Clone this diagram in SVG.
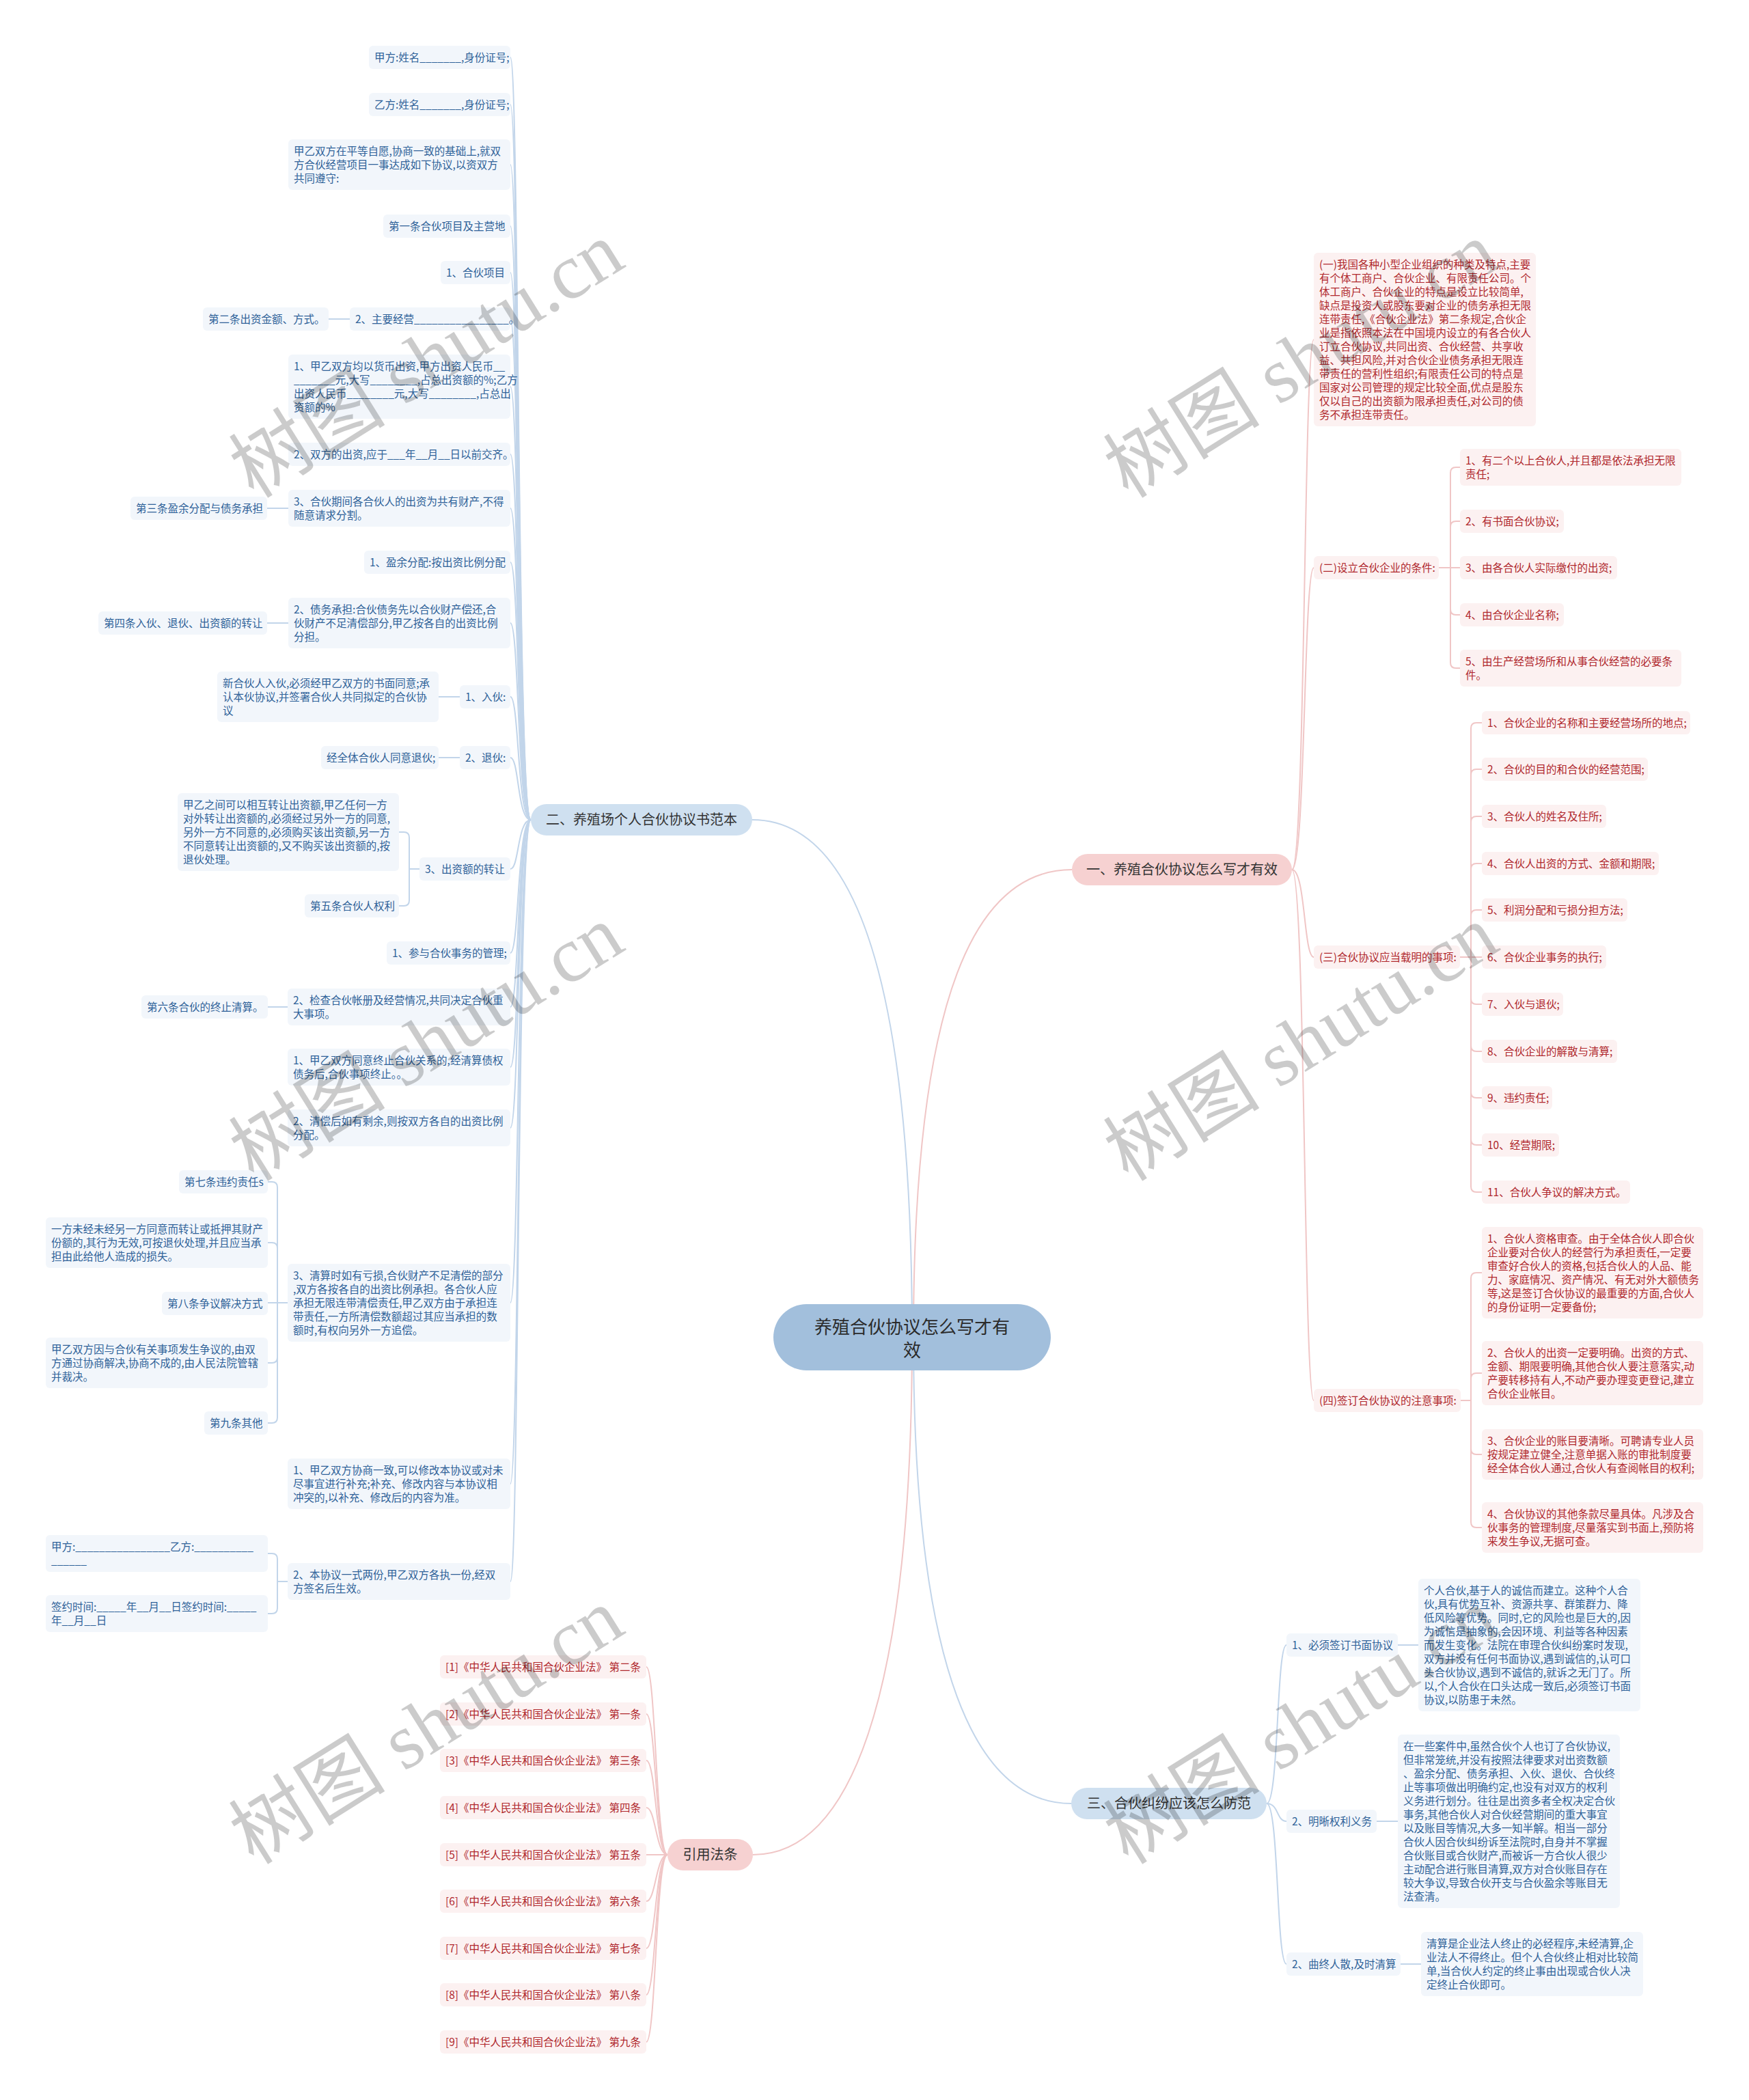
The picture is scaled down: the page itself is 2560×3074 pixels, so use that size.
<svg xmlns="http://www.w3.org/2000/svg" width="2560" height="3074" viewBox="0 0 2560 3074">
<style>
text{font-family:"Noto Sans CJK SC","Noto Sans",sans-serif}
.lb{fill:#f2f6fb}
.pb{fill:#fcf1f1}
.lt{fill:#2f6299;font-size:15.5px}
.pt{fill:#b0282d;font-size:15.5px}
.bt{fill:#333;font-size:20px;text-anchor:middle}
.cb{fill:none;stroke:#c2d5ea;stroke-width:2}
.cp{fill:none;stroke:#f0c6c6;stroke-width:2}
.wm{font-family:"Liberation Serif","Noto Sans CJK SC",serif;font-size:115px;fill:#000;opacity:.2;text-anchor:middle}
</style>
<rect width="2560" height="3074" fill="#fff"/>
<g id="connectors">
<path class="cb" d="M1101 1200 C1240 1200 1335 1400 1335 1957"/>
<path class="cp" d="M1569 1273 C1430 1273 1337 1450 1337 1957"/>
<path class="cb" d="M1568 2640 C1430 2640 1337 2450 1337 1957"/>
<path class="cp" d="M1102 2715 C1240 2715 1335 2500 1335 1957"/>
<!-- branch 二 -->
<path class="cb" d="M777 1200 C757 1200 760 84 747 84"/>
<path class="cb" d="M777 1200 C757 1200 760 153 747 153"/>
<path class="cb" d="M777 1200 C757 1200 760 241 747 241"/>
<path class="cb" d="M777 1200 C757 1200 760 331 747 331"/>
<path class="cb" d="M777 1200 C757 1200 760 399 747 399"/>
<path class="cb" d="M777 1200 C757 1200 760 467 747 467"/>
<path class="cb" d="M777 1200 C757 1200 760 566 747 566"/>
<path class="cb" d="M777 1200 C757 1200 760 665 747 665"/>
<path class="cb" d="M777 1200 C757 1200 760 744 747 744"/>
<path class="cb" d="M777 1200 C757 1200 760 823 747 823"/>
<path class="cb" d="M777 1200 C757 1200 760 912 747 912"/>
<path class="cb" d="M777 1200 C757 1200 760 1020 747 1020"/>
<path class="cb" d="M777 1200 C757 1200 760 1109 747 1109"/>
<path class="cb" d="M777 1200 C757 1200 760 1272 747 1272"/>
<path class="cb" d="M777 1200 C757 1200 760 1395 747 1395"/>
<path class="cb" d="M777 1200 C757 1200 760 1474 747 1474"/>
<path class="cb" d="M777 1200 C757 1200 760 1562 747 1562"/>
<path class="cb" d="M777 1200 C757 1200 760 1651 747 1651"/>
<path class="cb" d="M777 1200 C757 1200 760 1907 747 1907"/>
<path class="cb" d="M777 1200 C757 1200 760 2172 747 2172"/>
<path class="cb" d="M777 1200 C757 1200 760 2315 747 2315"/>
<path class="cb" d="M512 467 H481"/>
<path class="cb" d="M422 744 H391"/>
<path class="cb" d="M422 912 H391"/>
<path class="cb" d="M673 1020 H642"/>
<path class="cb" d="M673 1109 H642"/>
<path class="cb" d="M614 1272 H599 V1226 Q599 1218 591 1218 H584"/>
<path class="cb" d="M614 1272 H599 V1318 Q599 1326 591 1326 H584"/>
<path class="cb" d="M421 1474 H392"/>
<path class="cb" d="M421 1907 H406 V1738 Q406 1730 398 1730 H392"/>
<path class="cb" d="M421 1907 H406 V1827 Q406 1819 398 1819 H392"/>
<path class="cb" d="M421 1907 H392"/>
<path class="cb" d="M421 1907 H406 V1987 Q406 1995 398 1995 H392"/>
<path class="cb" d="M421 1907 H406 V2075 Q406 2083 398 2083 H392"/>
<path class="cb" d="M421 2315 H406 V2282 Q406 2274 398 2274 H392"/>
<path class="cb" d="M421 2315 H406 V2354 Q406 2362 398 2362 H392"/>
<!-- branch 一 -->
<path class="cp" d="M1891 1273 C1911 1273 1908 497 1923 497"/>
<path class="cp" d="M1891 1273 C1911 1273 1908 831 1923 831"/>
<path class="cp" d="M1891 1273 C1911 1273 1908 1401 1923 1401"/>
<path class="cp" d="M1891 1273 C1911 1273 1908 2050 1923 2050"/>
<path class="cp" d="M2106 831 H2123 V692 Q2123 684 2131 684 H2137"/>
<path class="cp" d="M2106 831 H2123 V771 Q2123 763 2131 763 H2137"/>
<path class="cp" d="M2106 831 H2137"/>
<path class="cp" d="M2106 831 H2123 V892 Q2123 900 2131 900 H2137"/>
<path class="cp" d="M2106 831 H2123 V970 Q2123 978 2131 978 H2137"/>
<path class="cp" d="M2137 1401 H2153 V1066 Q2153 1058 2161 1058 H2169"/>
<path class="cp" d="M2137 1401 H2153 V1134 Q2153 1126 2161 1126 H2169"/>
<path class="cp" d="M2137 1401 H2153 V1203 Q2153 1195 2161 1195 H2169"/>
<path class="cp" d="M2137 1401 H2153 V1272 Q2153 1264 2161 1264 H2169"/>
<path class="cp" d="M2137 1401 H2153 V1340 Q2153 1332 2161 1332 H2169"/>
<path class="cp" d="M2137 1401 H2169"/>
<path class="cp" d="M2137 1401 H2153 V1462 Q2153 1470 2161 1470 H2169"/>
<path class="cp" d="M2137 1401 H2153 V1531 Q2153 1539 2161 1539 H2169"/>
<path class="cp" d="M2137 1401 H2153 V1599 Q2153 1607 2161 1607 H2169"/>
<path class="cp" d="M2137 1401 H2153 V1668 Q2153 1676 2161 1676 H2169"/>
<path class="cp" d="M2137 1401 H2153 V1737 Q2153 1745 2161 1745 H2169"/>
<path class="cp" d="M2138 2050 H2153 V1871 Q2153 1863 2161 1863 H2169"/>
<path class="cp" d="M2138 2050 H2153 V2018 Q2153 2010 2161 2010 H2169"/>
<path class="cp" d="M2138 2050 H2153 V2121 Q2153 2129 2161 2129 H2169"/>
<path class="cp" d="M2138 2050 H2153 V2228 Q2153 2236 2161 2236 H2169"/>
<!-- branch 三 -->
<path class="cb" d="M1854 2640 C1872 2640 1868 2408 1883 2408"/>
<path class="cb" d="M1854 2640 C1872 2640 1868 2666 1883 2666"/>
<path class="cb" d="M1854 2640 C1872 2640 1868 2875 1883 2875"/>
<path class="cb" d="M2046 2408 H2076"/>
<path class="cb" d="M2015 2666 H2046"/>
<path class="cb" d="M2050 2875 H2080"/>
<!-- refs -->
<path class="cp" d="M977 2715 C960 2715 960 2440 946 2440"/>
<path class="cp" d="M977 2715 C960 2715 960 2509 946 2509"/>
<path class="cp" d="M977 2715 C960 2715 960 2577 946 2577"/>
<path class="cp" d="M977 2715 C960 2715 960 2646 946 2646"/>
<path class="cp" d="M977 2715 H946"/>
<path class="cp" d="M977 2715 C960 2715 960 2783 946 2783"/>
<path class="cp" d="M977 2715 C960 2715 960 2852 946 2852"/>
<path class="cp" d="M977 2715 C960 2715 960 2920 946 2920"/>
<path class="cp" d="M977 2715 C960 2715 960 2989 946 2989"/>
</g>

<g id="root"><rect x="1132" y="1909" width="406" height="97" rx="48.5" fill="#a2bfdc"/><text x="1335" y="1952" font-size="26" fill="#2b2b2b" text-anchor="middle">养殖合伙协议怎么写才有</text><text x="1335" y="1986" font-size="26" fill="#2b2b2b" text-anchor="middle">效</text></g>

<g id="b2"><rect x="777" y="1177" width="324" height="46" rx="23" fill="#cfe0f0"/><text class="bt" x="939" y="1207">二、养殖场个人合伙协议书范本</text></g>
<g id="b1"><rect x="1569" y="1250" width="322" height="46" rx="23" fill="#f6d1d1"/><text class="bt" x="1730" y="1280">一、养殖合伙协议怎么写才有效</text></g>
<g id="b3"><rect x="1568" y="2617" width="286" height="46" rx="23" fill="#cfe0f0"/><text class="bt" x="1711" y="2647">三、合伙纠纷应该怎么防范</text></g>
<g id="b4"><rect x="977" y="2692" width="125" height="46" rx="23" fill="#f6d1d1"/><text class="bt" x="1039.5" y="2722">引用法条</text></g>

<!-- left leaves -->
<g id="c1"><rect class="lb" x="540" y="67" width="207" height="34" rx="6"/><text class="lt" x="548" y="89.5">甲方:姓名_______,身份证号;</text></g>
<g id="c2"><rect class="lb" x="540" y="136" width="207" height="34" rx="6"/><text class="lt" x="548" y="158.5">乙方:姓名_______,身份证号;</text></g>
<g id="c3"><rect class="lb" x="422" y="204" width="325" height="74" rx="6"/><text class="lt"><tspan x="430" y="226.5">甲乙双方在平等自愿,协商一致的基础上,就双</tspan><tspan x="430" y="246.5">方合伙经营项目一事达成如下协议,以资双方</tspan><tspan x="430" y="266.5">共同遵守:</tspan></text></g>
<g id="c4"><rect class="lb" x="561" y="314" width="186" height="34" rx="6"/><text class="lt" x="569" y="336.5">第一条合伙项目及主营地</text></g>
<g id="c5"><rect class="lb" x="645" y="382" width="102" height="34" rx="6"/><text class="lt" x="653" y="404.5">1、合伙项目</text></g>
<g id="c6"><rect class="lb" x="512" y="450" width="235" height="34" rx="6"/><text class="lt" x="520" y="472.5">2、主要经营________________。</text></g>
<g id="g6"><rect class="lb" x="297" y="450" width="184" height="34" rx="6"/><text class="lt" x="305" y="472.5">第二条出资金额、方式。</text></g>
<g id="c7"><rect class="lb" x="422" y="519" width="325" height="94" rx="6"/><text class="lt"><tspan x="430" y="541.5">1、甲乙双方均以货币出资,甲方出资人民币__</tspan><tspan x="430" y="561.5">_______元,大写________,占总出资额的%;乙方</tspan><tspan x="430" y="581.5">出资人民币________元,大写________,占总出</tspan><tspan x="430" y="601.5">资额的%</tspan></text></g>
<g id="c8"><rect class="lb" x="422" y="648" width="325" height="34" rx="6"/><text class="lt" x="430" y="670.5">2、双方的出资,应于___年__月__日以前交齐。</text></g>
<g id="c9"><rect class="lb" x="422" y="717" width="325" height="54" rx="6"/><text class="lt"><tspan x="430" y="739.5">3、合伙期间各合伙人的出资为共有财产,不得</tspan><tspan x="430" y="759.5">随意请求分割。</tspan></text></g>
<g id="g9"><rect class="lb" x="191" y="727" width="200" height="34" rx="6"/><text class="lt" x="199" y="749.5">第三条盈余分配与债务承担</text></g>
<g id="c10"><rect class="lb" x="533" y="806" width="214" height="34" rx="6"/><text class="lt" x="541" y="828.5">1、盈余分配:按出资比例分配</text></g>
<g id="c11"><rect class="lb" x="422" y="875" width="325" height="74" rx="6"/><text class="lt"><tspan x="430" y="897.5">2、债务承担:合伙债务先以合伙财产偿还,合</tspan><tspan x="430" y="917.5">伙财产不足清偿部分,甲乙按各自的出资比例</tspan><tspan x="430" y="937.5">分担。</tspan></text></g>
<g id="g11"><rect class="lb" x="144" y="895" width="247" height="34" rx="6"/><text class="lt" x="152" y="917.5">第四条入伙、退伙、出资额的转让</text></g>
<g id="c12"><rect class="lb" x="673" y="1003" width="74" height="34" rx="6"/><text class="lt" x="681" y="1025.5">1、入伙:</text></g>
<g id="g12"><rect class="lb" x="318" y="983" width="324" height="74" rx="6"/><text class="lt"><tspan x="326" y="1005.5">新合伙人入伙,必须经甲乙双方的书面同意;承</tspan><tspan x="326" y="1025.5">认本伙协议,并签署合伙人共同拟定的合伙协</tspan><tspan x="326" y="1045.5">议</tspan></text></g>
<g id="c13"><rect class="lb" x="673" y="1092" width="74" height="34" rx="6"/><text class="lt" x="681" y="1114.5">2、退伙:</text></g>
<g id="g13"><rect class="lb" x="470" y="1092" width="172" height="34" rx="6"/><text class="lt" x="478" y="1114.5">经全体合伙人同意退伙;</text></g>
<g id="c14"><rect class="lb" x="614" y="1255" width="133" height="34" rx="6"/><text class="lt" x="622" y="1277.5">3、出资额的转让</text></g>
<g id="g14a"><rect class="lb" x="260" y="1161" width="324" height="114" rx="6"/><text class="lt"><tspan x="268" y="1183.5">甲乙之间可以相互转让出资额,甲乙任何一方</tspan><tspan x="268" y="1203.5">对外转让出资额的,必须经过另外一方的同意,</tspan><tspan x="268" y="1223.5">另外一方不同意的,必须购买该出资额,另一方</tspan><tspan x="268" y="1243.5">不同意转让出资额的,又不购买该出资额的,按</tspan><tspan x="268" y="1263.5">退伙处理。</tspan></text></g>
<g id="g14b"><rect class="lb" x="446" y="1309" width="138" height="34" rx="6"/><text class="lt" x="454" y="1331.5">第五条合伙人权利</text></g>
<g id="c15"><rect class="lb" x="566" y="1378" width="181" height="34" rx="6"/><text class="lt" x="574" y="1400.5">1、参与合伙事务的管理;</text></g>
<g id="c16"><rect class="lb" x="421" y="1447" width="326" height="54" rx="6"/><text class="lt"><tspan x="429" y="1469.5">2、检查合伙帐册及经营情况,共同决定合伙重</tspan><tspan x="429" y="1489.5">大事项。</tspan></text></g>
<g id="g16"><rect class="lb" x="207" y="1457" width="185" height="34" rx="6"/><text class="lt" x="215" y="1479.5">第六条合伙的终止清算。</text></g>
<g id="c17"><rect class="lb" x="421" y="1535" width="326" height="54" rx="6"/><text class="lt"><tspan x="429" y="1557.5">1、甲乙双方同意终止合伙关系的,经清算债权</tspan><tspan x="429" y="1577.5">债务后,合伙事项终止。。</tspan></text></g>
<g id="c18"><rect class="lb" x="421" y="1624" width="326" height="54" rx="6"/><text class="lt"><tspan x="429" y="1646.5">2、清偿后如有剩余,则按双方各自的出资比例</tspan><tspan x="429" y="1666.5">分配。</tspan></text></g>
<g id="c19"><rect class="lb" x="421" y="1850" width="326" height="114" rx="6"/><text class="lt"><tspan x="429" y="1872.5">3、清算时如有亏损,合伙财产不足清偿的部分</tspan><tspan x="429" y="1892.5">,双方各按各自的出资比例承担。各合伙人应</tspan><tspan x="429" y="1912.5">承担无限连带清偿责任,甲乙双方由于承担连</tspan><tspan x="429" y="1932.5">带责任,一方所清偿数额超过其应当承担的数</tspan><tspan x="429" y="1952.5">额时,有权向另外一方追偿。</tspan></text></g>
<g id="g19a"><rect class="lb" x="262" y="1713" width="130" height="34" rx="6"/><text class="lt" x="270" y="1735.5">第七条违约责任s</text></g>
<g id="g19b"><rect class="lb" x="67" y="1782" width="325" height="74" rx="6"/><text class="lt"><tspan x="75" y="1804.5">一方未经未经另一方同意而转让或抵押其财产</tspan><tspan x="75" y="1824.5">份额的,其行为无效,可按退伙处理,并且应当承</tspan><tspan x="75" y="1844.5">担由此给他人造成的损失。</tspan></text></g>
<g id="g19c"><rect class="lb" x="237" y="1891" width="155" height="34" rx="6"/><text class="lt" x="245" y="1913.5">第八条争议解决方式</text></g>
<g id="g19d"><rect class="lb" x="67" y="1958" width="325" height="74" rx="6"/><text class="lt"><tspan x="75" y="1980.5">甲乙双方因与合伙有关事项发生争议的,由双</tspan><tspan x="75" y="2000.5">方通过协商解决,协商不成的,由人民法院管辖</tspan><tspan x="75" y="2020.5">并裁决。</tspan></text></g>
<g id="g19e"><rect class="lb" x="299" y="2066" width="93" height="34" rx="6"/><text class="lt" x="307" y="2088.5">第九条其他</text></g>
<g id="c20"><rect class="lb" x="421" y="2135" width="326" height="74" rx="6"/><text class="lt"><tspan x="429" y="2157.5">1、甲乙双方协商一致,可以修改本协议或对未</tspan><tspan x="429" y="2177.5">尽事宜进行补充;补充、修改内容与本协议相</tspan><tspan x="429" y="2197.5">冲突的,以补充、修改后的内容为准。</tspan></text></g>
<g id="c21"><rect class="lb" x="421" y="2288" width="326" height="54" rx="6"/><text class="lt"><tspan x="429" y="2310.5">2、本协议一式两份,甲乙双方各执一份,经双</tspan><tspan x="429" y="2330.5">方签名后生效。</tspan></text></g>
<g id="g21a"><rect class="lb" x="67" y="2247" width="325" height="54" rx="6"/><text class="lt"><tspan x="75" y="2269.5">甲方:________________乙方:__________</tspan><tspan x="75" y="2289.5">______</tspan></text></g>
<g id="g21b"><rect class="lb" x="67" y="2335" width="325" height="54" rx="6"/><text class="lt"><tspan x="75" y="2357.5">签约时间:_____年__月__日签约时间:_____</tspan><tspan x="75" y="2377.5">年__月__日</tspan></text></g>

<!-- right pink -->
<g id="p1"><rect class="pb" x="1923" y="370" width="325" height="254" rx="6"/><text class="pt"><tspan x="1931" y="392.5">(一)我国各种小型企业组织的种类及特点,主要</tspan><tspan x="1931" y="412.5">有个体工商户、合伙企业、有限责任公司。个</tspan><tspan x="1931" y="432.5">体工商户、合伙企业的特点是设立比较简单,</tspan><tspan x="1931" y="452.5">缺点是投资人或股东要对企业的债务承担无限</tspan><tspan x="1931" y="472.5">连带责任,《合伙企业法》第二条规定,合伙企</tspan><tspan x="1931" y="492.5">业是指依照本法在中国境内设立的有各合伙人</tspan><tspan x="1931" y="512.5">订立合伙协议,共同出资、合伙经营、共享收</tspan><tspan x="1931" y="532.5">益、共担风险,并对合伙企业债务承担无限连</tspan><tspan x="1931" y="552.5">带责任的营利性组织;有限责任公司的特点是</tspan><tspan x="1931" y="572.5">国家对公司管理的规定比较全面,优点是股东</tspan><tspan x="1931" y="592.5">仅以自己的出资额为限承担责任,对公司的债</tspan><tspan x="1931" y="612.5">务不承担连带责任。</tspan></text></g>
<g id="p2"><rect class="pb" x="1923" y="814" width="183" height="34" rx="6"/><text class="pt" x="1931" y="836.5">(二)设立合伙企业的条件:</text></g>
<g id="p2a"><rect class="pb" x="2137" y="657" width="324" height="54" rx="6"/><text class="pt"><tspan x="2145" y="679.5">1、有二个以上合伙人,并且都是依法承担无限</tspan><tspan x="2145" y="699.5">责任;</tspan></text></g>
<g id="p2b"><rect class="pb" x="2137" y="746" width="152" height="34" rx="6"/><text class="pt" x="2145" y="768.5">2、有书面合伙协议;</text></g>
<g id="p2c"><rect class="pb" x="2137" y="814" width="230" height="34" rx="6"/><text class="pt" x="2145" y="836.5">3、由各合伙人实际缴付的出资;</text></g>
<g id="p2d"><rect class="pb" x="2137" y="883" width="152" height="34" rx="6"/><text class="pt" x="2145" y="905.5">4、由合伙企业名称;</text></g>
<g id="p2e"><rect class="pb" x="2137" y="951" width="324" height="54" rx="6"/><text class="pt"><tspan x="2145" y="973.5">5、由生产经营场所和从事合伙经营的必要条</tspan><tspan x="2145" y="993.5">件。</tspan></text></g>
<g id="p3"><rect class="pb" x="1923" y="1384" width="214" height="34" rx="6"/><text class="pt" x="1931" y="1406.5">(三)合伙协议应当载明的事项:</text></g>
<g id="p3a"><rect class="pb" x="2169" y="1041" width="305" height="34" rx="6"/><text class="pt" x="2177" y="1063.5">1、合伙企业的名称和主要经营场所的地点;</text></g>
<g id="p3b"><rect class="pb" x="2169" y="1109" width="243" height="34" rx="6"/><text class="pt" x="2177" y="1131.5">2、合伙的目的和合伙的经营范围;</text></g>
<g id="p3c"><rect class="pb" x="2169" y="1178" width="182" height="34" rx="6"/><text class="pt" x="2177" y="1200.5">3、合伙人的姓名及住所;</text></g>
<g id="p3d"><rect class="pb" x="2169" y="1247" width="259" height="34" rx="6"/><text class="pt" x="2177" y="1269.5">4、合伙人出资的方式、金额和期限;</text></g>
<g id="p3e"><rect class="pb" x="2169" y="1315" width="213" height="34" rx="6"/><text class="pt" x="2177" y="1337.5">5、利润分配和亏损分担方法;</text></g>
<g id="p3f"><rect class="pb" x="2169" y="1384" width="182" height="34" rx="6"/><text class="pt" x="2177" y="1406.5">6、合伙企业事务的执行;</text></g>
<g id="p3g"><rect class="pb" x="2169" y="1453" width="119" height="34" rx="6"/><text class="pt" x="2177" y="1475.5">7、入伙与退伙;</text></g>
<g id="p3h"><rect class="pb" x="2169" y="1522" width="198" height="34" rx="6"/><text class="pt" x="2177" y="1544.5">8、合伙企业的解散与清算;</text></g>
<g id="p3i"><rect class="pb" x="2169" y="1590" width="103" height="34" rx="6"/><text class="pt" x="2177" y="1612.5">9、违约责任;</text></g>
<g id="p3j"><rect class="pb" x="2169" y="1659" width="113" height="34" rx="6"/><text class="pt" x="2177" y="1681.5">10、经营期限;</text></g>
<g id="p3k"><rect class="pb" x="2169" y="1728" width="217" height="34" rx="6"/><text class="pt" x="2177" y="1750.5">11、合伙人争议的解决方式。</text></g>
<g id="p4"><rect class="pb" x="1923" y="2033" width="215" height="34" rx="6"/><text class="pt" x="1931" y="2055.5">(四)签订合伙协议的注意事项:</text></g>
<g id="p4a"><rect class="pb" x="2169" y="1796" width="324" height="134" rx="6"/><text class="pt"><tspan x="2177" y="1818.5">1、合伙人资格审查。由于全体合伙人即合伙</tspan><tspan x="2177" y="1838.5">企业要对合伙人的经营行为承担责任,一定要</tspan><tspan x="2177" y="1858.5">审查好合伙人的资格,包括合伙人的人品、能</tspan><tspan x="2177" y="1878.5">力、家庭情况、资产情况、有无对外大额债务</tspan><tspan x="2177" y="1898.5">等,这是签订合伙协议的最重要的方面,合伙人</tspan><tspan x="2177" y="1918.5">的身份证明一定要备份;</tspan></text></g>
<g id="p4b"><rect class="pb" x="2169" y="1963" width="324" height="94" rx="6"/><text class="pt"><tspan x="2177" y="1985.5">2、合伙人的出资一定要明确。出资的方式、</tspan><tspan x="2177" y="2005.5">金额、期限要明确,其他合伙人要注意落实,动</tspan><tspan x="2177" y="2025.5">产要转移持有人,不动产要办理变更登记,建立</tspan><tspan x="2177" y="2045.5">合伙企业帐目。</tspan></text></g>
<g id="p4c"><rect class="pb" x="2169" y="2092" width="324" height="74" rx="6"/><text class="pt"><tspan x="2177" y="2114.5">3、合伙企业的账目要清晰。可聘请专业人员</tspan><tspan x="2177" y="2134.5">按规定建立健全,注意单据入账的审批制度要</tspan><tspan x="2177" y="2154.5">经全体合伙人通过,合伙人有查阅帐目的权利;</tspan></text></g>
<g id="p4d"><rect class="pb" x="2169" y="2199" width="324" height="74" rx="6"/><text class="pt"><tspan x="2177" y="2221.5">4、合伙协议的其他条款尽量具体。凡涉及合</tspan><tspan x="2177" y="2241.5">伙事务的管理制度,尽量落实到书面上,预防将</tspan><tspan x="2177" y="2261.5">来发生争议,无据可查。</tspan></text></g>

<!-- branch 三 leaves -->
<g id="s1"><rect class="lb" x="1883" y="2391" width="163" height="34" rx="6"/><text class="lt" x="1891" y="2413.5">1、必须签订书面协议</text></g>
<g id="s1p"><rect class="lb" x="2076" y="2311" width="325" height="194" rx="6"/><text class="lt"><tspan x="2084" y="2333.5">个人合伙,基于人的诚信而建立。这种个人合</tspan><tspan x="2084" y="2353.5">伙,具有优势互补、资源共享、群策群力、降</tspan><tspan x="2084" y="2373.5">低风险等优势。同时,它的风险也是巨大的,因</tspan><tspan x="2084" y="2393.5">为诚信是抽象的,会因环境、利益等各种因素</tspan><tspan x="2084" y="2413.5">而发生变化。法院在审理合伙纠纷案时发现,</tspan><tspan x="2084" y="2433.5">双方并没有任何书面协议,遇到诚信的,认可口</tspan><tspan x="2084" y="2453.5">头合伙协议,遇到不诚信的,就诉之无门了。所</tspan><tspan x="2084" y="2473.5">以,个人合伙在口头达成一致后,必须签订书面</tspan><tspan x="2084" y="2493.5">协议,以防患于未然。</tspan></text></g>
<g id="s2"><rect class="lb" x="1883" y="2649" width="132" height="34" rx="6"/><text class="lt" x="1891" y="2671.5">2、明晰权利义务</text></g>
<g id="s2p"><rect class="lb" x="2046" y="2539" width="325" height="254" rx="6"/><text class="lt"><tspan x="2054" y="2561.5">在一些案件中,虽然合伙个人也订了合伙协议,</tspan><tspan x="2054" y="2581.5">但非常笼统,并没有按照法律要求对出资数额</tspan><tspan x="2054" y="2601.5">、盈余分配、债务承担、入伙、退伙、合伙终</tspan><tspan x="2054" y="2621.5">止等事项做出明确约定,也没有对双方的权利</tspan><tspan x="2054" y="2641.5">义务进行划分。往往是出资多者全权决定合伙</tspan><tspan x="2054" y="2661.5">事务,其他合伙人对合伙经营期间的重大事宜</tspan><tspan x="2054" y="2681.5">以及账目等情况,大多一知半解。相当一部分</tspan><tspan x="2054" y="2701.5">合伙人因合伙纠纷诉至法院时,自身并不掌握</tspan><tspan x="2054" y="2721.5">合伙账目或合伙财产,而被诉一方合伙人很少</tspan><tspan x="2054" y="2741.5">主动配合进行账目清算,双方对合伙账目存在</tspan><tspan x="2054" y="2761.5">较大争议,导致合伙开支与合伙盈余等账目无</tspan><tspan x="2054" y="2781.5">法查清。</tspan></text></g>
<g id="s3"><rect class="lb" x="1883" y="2858" width="167" height="34" rx="6"/><text class="lt" x="1891" y="2880.5">2、曲终人散,及时清算</text></g>
<g id="s3p"><rect class="lb" x="2080" y="2828" width="325" height="94" rx="6"/><text class="lt"><tspan x="2088" y="2850.5">清算是企业法人终止的必经程序,未经清算,企</tspan><tspan x="2088" y="2870.5">业法人不得终止。但个人合伙终止相对比较简</tspan><tspan x="2088" y="2890.5">单,当合伙人约定的终止事由出现或合伙人决</tspan><tspan x="2088" y="2910.5">定终止合伙即可。</tspan></text></g>

<!-- refs -->
<g id="r1"><rect class="pb" x="644" y="2423" width="302" height="34" rx="6"/><text class="pt" x="652" y="2445.5">[1]《中华人民共和国合伙企业法》 第二条</text></g>
<g id="r2"><rect class="pb" x="644" y="2492" width="302" height="34" rx="6"/><text class="pt" x="652" y="2514.5">[2]《中华人民共和国合伙企业法》 第一条</text></g>
<g id="r3"><rect class="pb" x="644" y="2560" width="302" height="34" rx="6"/><text class="pt" x="652" y="2582.5">[3]《中华人民共和国合伙企业法》 第三条</text></g>
<g id="r4"><rect class="pb" x="644" y="2629" width="302" height="34" rx="6"/><text class="pt" x="652" y="2651.5">[4]《中华人民共和国合伙企业法》 第四条</text></g>
<g id="r5"><rect class="pb" x="644" y="2698" width="302" height="34" rx="6"/><text class="pt" x="652" y="2720.5">[5]《中华人民共和国合伙企业法》 第五条</text></g>
<g id="r6"><rect class="pb" x="644" y="2766" width="302" height="34" rx="6"/><text class="pt" x="652" y="2788.5">[6]《中华人民共和国合伙企业法》 第六条</text></g>
<g id="r7"><rect class="pb" x="644" y="2835" width="302" height="34" rx="6"/><text class="pt" x="652" y="2857.5">[7]《中华人民共和国合伙企业法》 第七条</text></g>
<g id="r8"><rect class="pb" x="644" y="2903" width="302" height="34" rx="6"/><text class="pt" x="652" y="2925.5">[8]《中华人民共和国合伙企业法》 第八条</text></g>
<g id="r9"><rect class="pb" x="644" y="2972" width="302" height="34" rx="6"/><text class="pt" x="652" y="2994.5">[9]《中华人民共和国合伙企业法》 第九条</text></g>

<g id="watermarks">
<text class="wm" transform="translate(645 560) rotate(-32)">树图 shutu.cn</text>
<text class="wm" transform="translate(645 1560) rotate(-32)">树图 shutu.cn</text>
<text class="wm" transform="translate(645 2560) rotate(-32)">树图 shutu.cn</text>
<text class="wm" transform="translate(1925 560) rotate(-32)">树图 shutu.cn</text>
<text class="wm" transform="translate(1925 1560) rotate(-32)">树图 shutu.cn</text>
<text class="wm" transform="translate(1925 2560) rotate(-32)">树图 shutu.cn</text>
</g>
</svg>
